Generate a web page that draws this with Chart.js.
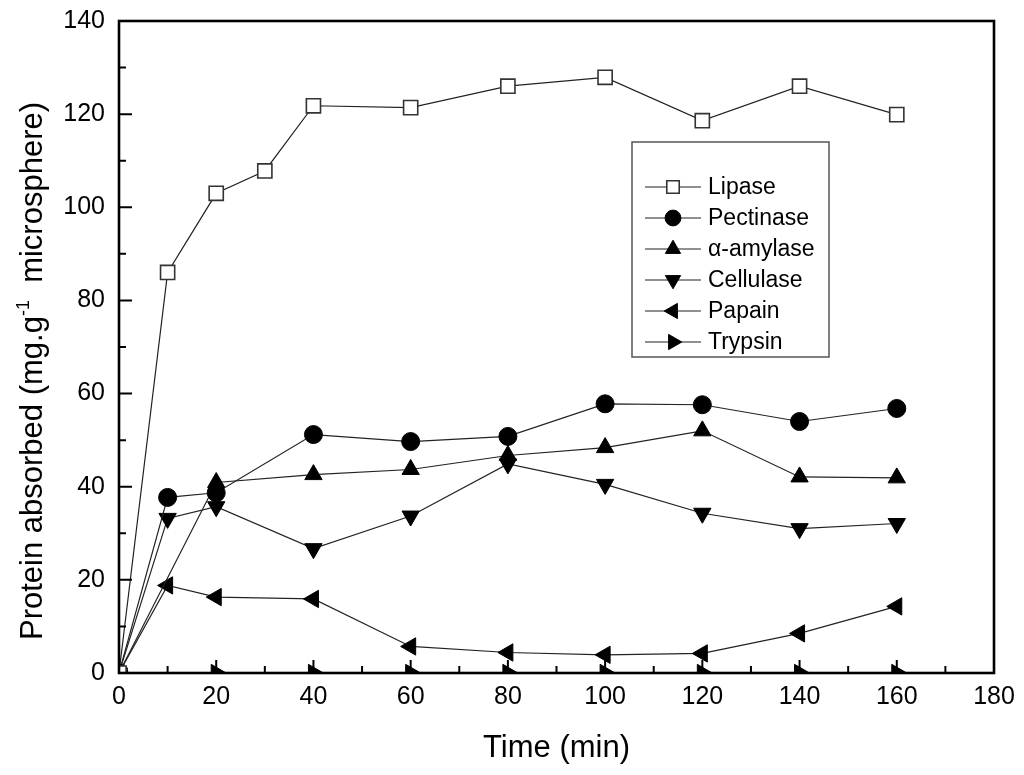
<!DOCTYPE html>
<html lang="en">
<head>
  <meta charset="UTF-8">
  <title>Protein absorbed vs time</title>
  <script src="https://cdn.jsdelivr.net/npm/chart.js"></script>
  <style>
    html, body { margin: 0; padding: 0; background: #fff; }
    #wrap { width: 1024px; height: 775px; }
  </style>
</head>
<body>
<div id="wrap"><canvas id="chart"></canvas></div>
<script>
  // values (time in min, protein in mg/g)
  const lipaseTime = [0, 10, 20, 30, 40, 60, 80, 100, 120, 140, 160];
  const lipase = [0, 86.0, 103.0, 107.8, 121.8, 121.4, 126.0, 127.9, 118.6, 126.0, 119.9];

  const pectinaseTime = [0, 10, 20, 40, 60, 80, 100, 120, 140, 160];
  const pectinase = [0, 37.7, 38.7, 51.2, 49.7, 50.8, 57.8, 57.6, 54.0, 56.8];

  const amylaseTime = [0, 20, 40, 60, 80, 100, 120, 140, 160];
  const amylase = [0, 40.9, 42.6, 43.7, 46.7, 48.4, 52.0, 42.1, 41.9];

  const cellulaseTime = [0, 10, 20, 40, 60, 80, 100, 120, 140, 160];
  const cellulase = [0, 33.2, 35.7, 26.7, 33.7, 44.9, 40.5, 34.3, 31.0, 32.1];

  const papainTime = [0, 10, 20, 40, 60, 80, 100, 120, 140, 160];
  const papain = [0, 18.8, 16.3, 15.9, 5.7, 4.4, 3.9, 4.2, 8.5, 14.3];

  const trypsinTime = [0, 20, 40, 60, 80, 100, 120, 140, 160];
  const trypsin = [0, 0, 0, 0, 0, 0, 0, 0, 0];

  const xTicks = [0, 20, 40, 60, 80, 100, 120, 140, 160, 180];
  const yTicks = [0, 20, 40, 60, 80, 100, 120, 140];

  const FONT = "'Liberation Sans', Arial, Helvetica, sans-serif";
  Chart.defaults.font.family = FONT;
  Chart.defaults.color = '#000';

  function pts(xs, ys) {
    return xs.map((x, i) => ({ x: x, y: ys[i] }));
  }

  function series(label, xs, ys, style, radius, rotation, fill) {
    return {
      label: label,
      data: pts(xs, ys),
      borderColor: '#222',
      borderWidth: 1.2,
      tension: 0,
      fill: false,
      clip: 0,
      pointStyle: style,
      pointRadius: radius,
      pointRotation: rotation,
      pointBackgroundColor: fill,
      pointBorderColor: fill === '#fff' ? '#333' : '#000',
      pointBorderWidth: fill === '#fff' ? 1.6 : 1
    };
  }

  // my own marker painter, same geometry as chart.js uses
  function drawMarker(ctx, style, x, y, r, rot, fill, stroke, lw) {
    ctx.save();
    ctx.beginPath();
    if (style === 'circle') {
      ctx.arc(x, y, r, 0, Math.PI * 2);
    } else if (style === 'rect') {
      const s = Math.SQRT1_2 * r;
      ctx.rect(x - s, y - s, 2 * s, 2 * s);
    } else if (style === 'triangle') {
      let a = rot * Math.PI / 180;
      ctx.moveTo(x + Math.sin(a) * r, y - Math.cos(a) * r);
      a += Math.PI * 2 / 3;
      ctx.lineTo(x + Math.sin(a) * r, y - Math.cos(a) * r);
      a += Math.PI * 2 / 3;
      ctx.lineTo(x + Math.sin(a) * r, y - Math.cos(a) * r);
      ctx.closePath();
    }
    ctx.fillStyle = fill;
    ctx.fill();
    ctx.lineWidth = lw;
    ctx.strokeStyle = stroke;
    ctx.stroke();
    ctx.restore();
  }

  const framePlugin = {
    id: 'frame',
    afterDraw(chart) {
      const ctx = chart.ctx;
      const a = chart.chartArea;
      const xs = chart.scales.x;
      const ys = chart.scales.y;
      ctx.save();
      ctx.strokeStyle = '#000';

      // inside ticks
      ctx.lineWidth = 2;
      ctx.beginPath();
      for (let v = 10; v < 140; v += 10) {
        const py = ys.getPixelForValue(v);
        const len = v % 20 === 0 ? 13 : 7;
        ctx.moveTo(a.left, py);
        ctx.lineTo(a.left + len, py);
      }
      for (let v = 10; v < 180; v += 10) {
        const px = xs.getPixelForValue(v);
        const len = v % 20 === 0 ? 13 : 7;
        ctx.moveTo(px, a.bottom);
        ctx.lineTo(px, a.bottom - len);
      }
      ctx.stroke();

      // box
      ctx.lineWidth = 2.6;
      ctx.strokeRect(a.left, a.top, a.right - a.left, a.bottom - a.top);

      // x title
      ctx.fillStyle = '#000';
      ctx.font = '31px ' + FONT;
      ctx.textAlign = 'center';
      ctx.textBaseline = 'alphabetic';
      ctx.fillText('Time (min)', (a.left + a.right) / 2, 757);

      // y title with superscript
      const parts = [
        { t: 'Protein absorbed (mg.g', size: 31, rise: 0 },
        { t: '-1', size: 18, rise: 13 },
        { t: '  microsphere)', size: 31, rise: 0 }
      ];
      let total = 0;
      parts.forEach(p => {
        ctx.font = p.size + 'px ' + FONT;
        p.w = ctx.measureText(p.t).width;
        total += p.w;
      });
      ctx.translate(42, 371);
      ctx.rotate(-Math.PI / 2);
      ctx.textAlign = 'left';
      let cx = -total / 2;
      parts.forEach(p => {
        ctx.font = p.size + 'px ' + FONT;
        ctx.fillText(p.t, cx, -p.rise);
        cx += p.w;
      });
      ctx.restore();

      // legend
      ctx.save();
      const box = { x: 632, y: 142, w: 197, h: 215 };
      ctx.fillStyle = '#fff';
      ctx.fillRect(box.x, box.y, box.w, box.h);
      ctx.strokeStyle = '#555';
      ctx.lineWidth = 1.5;
      ctx.strokeRect(box.x, box.y, box.w, box.h);
      ctx.font = '23px ' + FONT;
      ctx.textAlign = 'left';
      ctx.textBaseline = 'middle';
      chart.data.datasets.forEach((ds, i) => {
        const ry = 187 + i * 31;
        ctx.strokeStyle = ds.borderColor;
        ctx.lineWidth = ds.borderWidth;
        ctx.beginPath();
        ctx.moveTo(645, ry);
        ctx.lineTo(701, ry);
        ctx.stroke();
        drawMarker(ctx, ds.pointStyle, 673, ry, ds.pointRadius * 0.88, ds.pointRotation,
          ds.pointBackgroundColor, ds.pointBorderColor, ds.pointBorderWidth);
        ctx.fillStyle = '#000';
        ctx.fillText(ds.label, 708, ry + 1);
      });
      ctx.restore();
    }
  };

  new Chart(document.getElementById('chart'), {
    type: 'line',
    data: {
      datasets: [
        series('Lipase', lipaseTime, lipase, 'rect', 10, 0, '#fff'),
        series('Pectinase', pectinaseTime, pectinase, 'circle', 9, 0, '#000'),
        series('\u03b1-amylase', amylaseTime, amylase, 'triangle', 10, 0, '#000'),
        series('Cellulase', cellulaseTime, cellulase, 'triangle', 10, 180, '#000'),
        series('Papain', papainTime, papain, 'triangle', 10, 270, '#000'),
        series('Trypsin', trypsinTime, trypsin, 'triangle', 10, 90, '#000')
      ]
    },
    options: {
      responsive: true,
      maintainAspectRatio: false,
      animation: false,
      events: [],
      layout: { padding: { top: 21, right: 30, left: 0, bottom: 0 } },
      plugins: {
        legend: { display: false },
        tooltip: { enabled: false }
      },
      scales: {
        x: {
          type: 'linear',
          min: 0,
          max: 180,
          afterFit(scale) {
            scale.height = 102;
            scale.paddingLeft = 0;
            scale.paddingRight = 0;
          },
          afterBuildTicks(scale) { scale.ticks = xTicks.map(v => ({ value: v })); },
          grid: { display: false, drawTicks: false },
          border: { display: false },
          ticks: { padding: 9, font: { size: 25 }, color: '#000', maxRotation: 0 }
        },
        y: {
          type: 'linear',
          min: 0,
          max: 140,
          afterFit(scale) {
            scale.width = 119;
            scale.paddingTop = 0;
            scale.paddingBottom = 0;
          },
          afterBuildTicks(scale) { scale.ticks = yTicks.map(v => ({ value: v })); },
          grid: { display: false, drawTicks: false },
          border: { display: false },
          ticks: { padding: 14, font: { size: 25 }, color: '#000' }
        }
      }
    },
    plugins: [framePlugin]
  });
</script>
</body>
</html>
